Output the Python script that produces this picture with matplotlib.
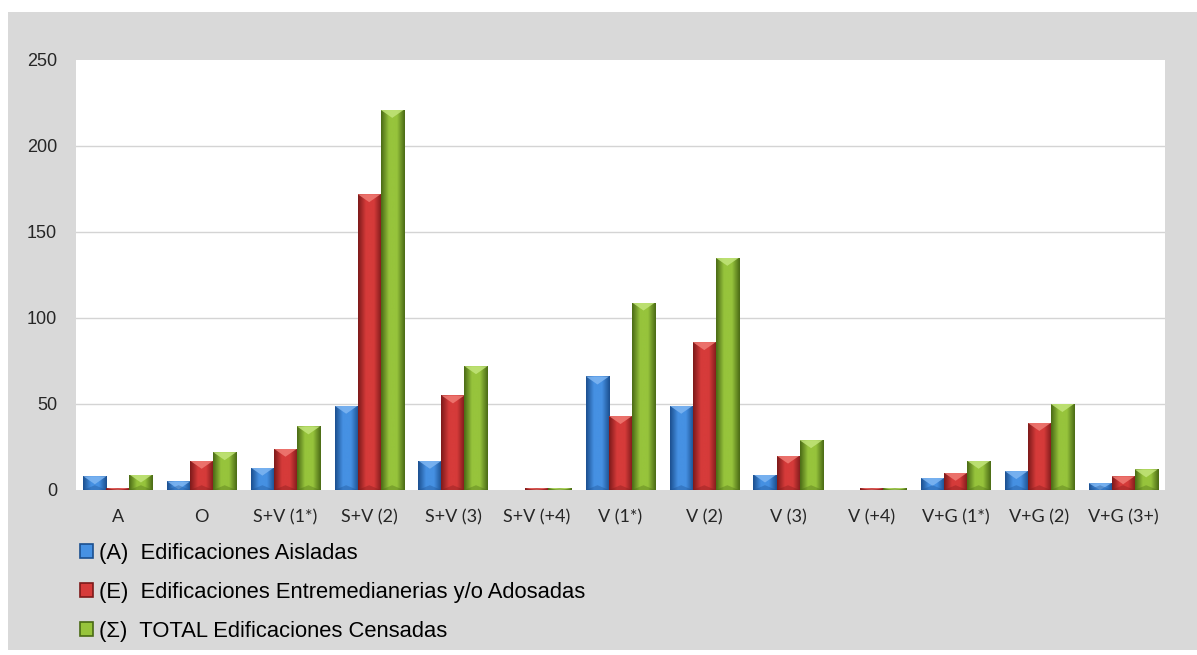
import matplotlib.pyplot as plt
import numpy as np
from matplotlib.colors import LinearSegmentedColormap
from matplotlib.patches import Rectangle, Polygon, Patch

# Tipologías edificatorias censadas
categorias = ["A", "O", "S+V (1*)", "S+V (2)", "S+V (3)", "S+V (+4)", "V (1*)",
              "V (2)", "V (3)", "V (+4)", "V+G (1*)", "V+G (2)", "V+G (3+)"]

aisladas = [8, 5, 13, 49, 17, 0, 66, 49, 9, 0, 7, 11, 4]
adosadas = [1, 17, 24, 172, 55, 1, 43, 86, 20, 1, 10, 39, 8]
total = [9, 22, 37, 221, 72, 1, 109, 135, 29, 1, 17, 50, 12]

etiquetas = [
    "(A)  Edificaciones Aisladas",
    "(E)  Edificaciones Entremedianerias y/o Adosadas",
    "(\u03a3)  TOTAL Edificaciones Censadas",
]

y_ticks = [0, 50, 100, 150, 200, 250]

# (borde oscuro, centro claro, bisel superior)
colores = [
    ("#1b4f8f", "#4691e3", "#7fb6f2"),
    ("#7d1a1a", "#d63b3a", "#f07b74"),
    ("#4a6a15", "#97c43c", "#c2e57a"),
]

FONDO = "#d9d9d9"

fig = plt.figure(figsize=(11.97, 6.55), dpi=100)
fig.patch.set_facecolor("white")
# fondo gris del gráfico
fig.patches.append(Rectangle((8 / 1197, 5 / 655), 1 - 8 / 1197, (650 - 12) / 655,
                             transform=fig.transFigure, facecolor=FONDO,
                             edgecolor="none", zorder=-10))

ax = fig.add_axes([76 / 1197, 165 / 655, (1165 - 76) / 1197, 430 / 655])
ax.set_facecolor("white")

x = np.arange(len(categorias))
ancho = 0.275
series = [aisladas, adosadas, total]

ax.set_xlim(-0.5, len(categorias) - 0.5)
ax.set_ylim(0, 250)

# profundidad del bisel en unidades de datos (~8 px)
bisel = 8 / 1.72


def barra_biselada(xc, h, cols):
    borde, centro, claro = cols
    cmap = LinearSegmentedColormap.from_list("b", [borde, centro, centro, borde])
    x0, x1 = xc - ancho / 2, xc + ancho / 2
    h_vis = max(h, 0.6)
    rect = Rectangle((x0, 0), ancho, h_vis, facecolor="none", edgecolor="none")
    ax.add_patch(rect)
    grad = np.linspace(0, 1, 64).reshape(1, -1)
    im = ax.imshow(grad, cmap=cmap, extent=(x0, x1, 0, h_vis), aspect="auto",
                   interpolation="bicubic", zorder=2)
    im.set_clip_path(rect)
    # bisel superior en forma de V
    d = min(bisel, h_vis)
    tri = Polygon([(x0, h_vis), (x1, h_vis), (xc, h_vis - d)], closed=True,
                  facecolor=claro, edgecolor="none", alpha=0.85, zorder=3)
    ax.add_patch(tri)
    tri.set_clip_path(rect)
    # sombra inferior
    tri_b = Polygon([(x0, 0), (x1, 0), (xc, min(bisel * 0.6, h_vis))], closed=True,
                    facecolor=borde, edgecolor="none", alpha=0.35, zorder=3)
    ax.add_patch(tri_b)
    tri_b.set_clip_path(rect)


for i, (valores, cols) in enumerate(zip(series, colores)):
    for xc, h in zip(x + (i - 1) * ancho, valores):
        if h > 0:
            barra_biselada(xc, h, cols)

# líneas de división
for v in y_ticks[1:-1]:
    ax.axhline(v, color="#d4d4d4", lw=1.0, zorder=1)

for s in ax.spines.values():
    s.set_visible(False)

ax.set_yticks(y_ticks)
ax.set_yticklabels([str(v) for v in y_ticks], family="Liberation Sans",
                   fontsize=13, color="#262626")
ax.set_xticks(x)
ax.set_xticklabels(categorias, family="Lato", fontsize=13, color="#262626")
ax.tick_params(axis="y", length=0, pad=13.5)
ax.tick_params(axis="x", length=0, pad=14)

# leyenda
handles = [Patch(facecolor=c[1], edgecolor=c[0], lw=1.2) for c in colores]
fig.legend(handles, etiquetas, loc="upper left",
           bbox_to_anchor=(80 / 1197, (655 - 543) / 655),
           frameon=False, borderpad=0, borderaxespad=0,
           handlelength=0.6, handleheight=0.6, handletextpad=0.25,
           labelspacing=0.82,
           prop={"family": "Liberation Sans", "size": 15.8})

fig.savefig("out.png", dpi=100, facecolor=fig.get_facecolor())
